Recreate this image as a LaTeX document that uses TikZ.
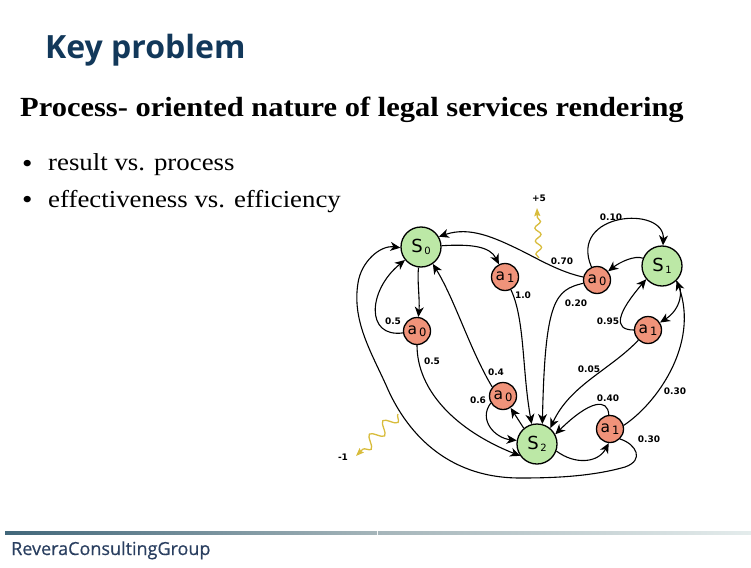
\documentclass[tikz,border=0pt]{standalone}
\usepackage{fontspec}
\setmainfont{Liberation Serif}[FakeStretch=1.1]
\newfontfamily\headfont{Open Sans}
\newfontfamily\brandfont{Open Sans}[FakeBold=0.5]
\newfontfamily\labfont{DejaVu Sans}
\usetikzlibrary{arrows.meta,decorations.pathmorphing}
\definecolor{navy}{HTML}{12385A}
\definecolor{footnavy}{HTML}{2A3F60}
\definecolor{stategreen}{HTML}{BCE8A6}
\definecolor{actionred}{HTML}{F0937A}
\definecolor{rewardgold}{HTML}{D8BC3C}
\definecolor{barleft}{HTML}{41677A}
\definecolor{barmid}{HTML}{A5B5BA}
\definecolor{barright}{HTML}{E4ECEC}
\newcommand{\subname}[2]{#1{\fontsize{10}{10}\selectfont\raisebox{-2.5pt}{\,#2}}}
\newcommand{\subact}[2]{#1{\fontsize{11.5}{10}\selectfont\raisebox{-2.5pt}{\,#2}}}
\tikzset{
  statenode/.style={circle,draw,line width=1.3pt,fill=stategreen,minimum size=40pt,inner sep=0pt,font=\labfont\fontsize{18}{18}\selectfont},
  actionnode/.style={circle,draw,line width=1.3pt,fill=actionred,minimum size=27pt,inner sep=0pt,font=\labfont\fontsize{15.5}{14}\selectfont},
  problabel/.style={inner sep=0pt,font=\labfont\bfseries\fontsize{9}{9}\selectfont},
  bodyline/.style={anchor=base west,inner sep=0pt,font=\fontsize{24.4}{26}\selectfont},
  edge/.style={-{Stealth[length=10pt,width=9pt,inset=3pt]},line width=1.1pt},
  reward/.style={-{Stealth[length=8pt,width=6pt,inset=1pt]},rewardgold,line width=1.3pt,decorate},
}
\begin{document}
\begin{tikzpicture}[x=1pt,y=-1pt]
  \useasboundingbox (0,0) rectangle (751,567);
  \node[anchor=base west,inner sep=0pt,text=navy,font=\headfont\bfseries\fontsize{32}{34}\selectfont] (title) at (45,59) {Key problem};
  \node[bodyline,font=\bfseries\fontsize{27.7}{28}\selectfont] (heading) at (20,116.5) {Process- oriented nature of legal services rendering};
  \node[bodyline,font=\fontsize{27}{27}\selectfont] (dot1) at (22,172) {•};
  \node[bodyline] (item1) at (48,170) {result vs. process};
  \node[bodyline,font=\fontsize{27}{27}\selectfont] (dot2) at (22,208) {•};
  \node[bodyline] (item2) at (48,207) {effectiveness vs. efficiency};

  \draw
    (421,247) node[statenode] (s0){\subname{S}{0}}
    (662,266) node[statenode] (s1){\subname{S}{1}}
    (537,444) node[statenode] (s2){\subname{S}{2}}
    (505,277) node[actionnode] (s0a1){\subact{a}{1}}
    (417,331) node[actionnode] (s0a0){\subact{a}{0}}
    (597,280) node[actionnode] (s1a0){\subact{a}{0}}
    (648,330) node[actionnode] (s1a1){\subact{a}{1}}
    (503,396) node[actionnode] (s2a0){\subact{a}{0}}
    (610,429) node[actionnode] (s2a1){\subact{a}{1}};
  \begin{scope}[edge]
    \draw (s0) .. controls (470,244) and (490,246) .. (s0a1);
    \draw (s0) .. controls (417,280) and (420,300) .. (s0a0);
    \draw (s0a0) .. controls (365,338) and (368,290) .. (s0);
    \draw (s0a0) .. controls (417,390) and (455,430) .. (s2.215);
    \draw (s0a1) .. controls (525,320) and (522,370) .. (s2.105);
    \draw (s1a0) .. controls (560,272) and (540,260) .. (520,250) .. controls (495,238) and (470,226) .. (s0.30);
    \draw (s1a0) .. controls (555,290) and (545,300) .. (s2.75);
    \draw (s1a0) .. controls (568,212) and (665,205) .. (s1);
    \draw (s1) .. controls (635,255) and (620,262) .. (s1a0);
    \draw (s1) .. controls (685,290) and (680,310) .. (s1a1);
    \draw (s1a1.west) .. controls (612,330) and (618,312) .. (s1.220);
    \draw (s1a1) .. controls (610,370) and (570,385) .. (s2.50);
    \draw (s2a0.140) .. controls (470,350) and (455,300) .. (s0.-55);
    \draw (s2a0.-150) .. controls (478,420) and (495,438) .. (s2.170);
    \draw (s2.130) to (s2a0);
    \draw (s2a1.95) .. controls (608,398) and (590,400) .. (s2.28);
    \draw (s2.-20) .. controls (575,465) and (598,463) .. (s2a1.-95);
    \draw (s2a1.15) .. controls (655,405) and (700,345) .. (s1.-45);
    \draw (s2a1.-45) .. controls (636,444) and (645,460) .. (625,467) .. controls (590,477) and (550,478) .. (520,478) .. controls (445,478) and (405,430) .. (386,385) .. controls (370,350) and (352,320) .. (358,283) .. controls (361,262) and (380,245) .. (s0.182);
  \end{scope}
  \coordinate (plusfrom) at (539,258);
  \coordinate (plusto) at (537,208);
  \coordinate (minusfrom) at (398,414);
  \coordinate (minusto) at (356,456);
  \draw[reward,decoration={snake,amplitude=3pt,segment length=13pt,post length=8pt}] (plusfrom) -- (plusto);
  \draw[reward,decoration={snake,amplitude=6pt,segment length=19pt,post length=8pt}] (minusfrom) -- (minusto);

  \node[problabel] (p1) at (393,321) {0.5};
  \node[problabel] (p2) at (432,361) {0.5};
  \node[problabel] (p3) at (523,295) {1.0};
  \node[problabel] (p4) at (562,261) {0.70};
  \node[problabel] (p5) at (611,217) {0.10};
  \node[problabel] (p6) at (576,303) {0.20};
  \node[problabel] (p7) at (608,321) {0.95};
  \node[problabel] (p8) at (496,372) {0.4};
  \node[problabel] (p9) at (478,400) {0.6};
  \node[problabel] (p10) at (589,369) {0.05};
  \node[problabel] (p11) at (608,398) {0.40};
  \node[problabel] (p12) at (675,391) {0.30};
  \node[problabel] (p13) at (649,439) {0.30};
  \node[problabel] (plus) at (539,198) {+5};
  \node[problabel] (minus) at (343,457) {-1};

  \shade[left color=barleft,right color=barmid] (5,531.5) rectangle (377,534.5);
  \shade[left color=barmid,right color=barright] (378,531.5) rectangle (751,534.5);
  \node[anchor=base west,inner sep=0pt,text=footnavy,font=\brandfont\fontsize{18}{20}\selectfont] (brand) at (11,555) {ReveraConsultingGroup};
\end{tikzpicture}
\end{document}
